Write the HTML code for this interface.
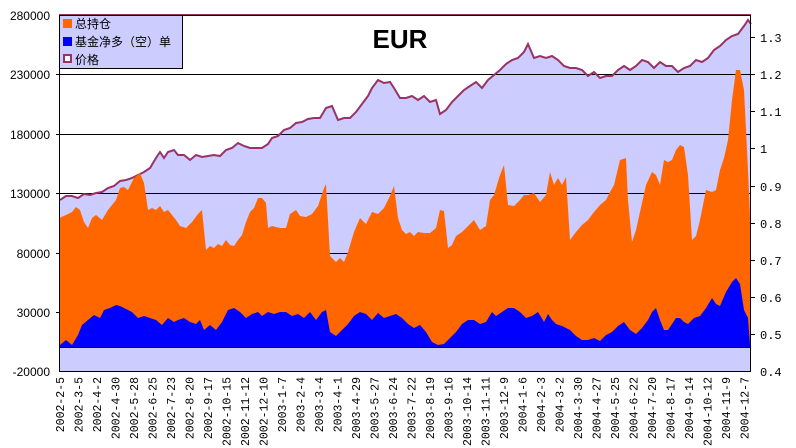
<!DOCTYPE html>
<html><head><meta charset="utf-8"><style>body{margin:0;background:#fff}svg{display:block}</style></head><body>
<svg width="796" height="448" xmlns="http://www.w3.org/2000/svg" font-family="Liberation Mono, monospace">
<rect x="59" y="15" width="692" height="357" fill="#ccccff"/>
<polygon fill="#fff" points="59,15 751,15 751,24 748,20 744,26 738,34 732,36 726,40 720,46 714,50 708,58 702,62 696,60 690,66 684,68 678,72 672,66 666,66 660,62 654,68 648,62 642,60 636,66 630,70 624,66 618,70 612,76 606,76 600,78 594,72 588,76 582,70 576,68 570,68 564,66 558,60 552,56 546,58 540,56 534,58 528,44 524,52 518,58 512,60 506,64 500,70 494,75 488,80 482,88 476,82 470,86 464,90 458,96 452,102 446,110 440,114 436,100 430,102 424,96 418,100 412,96 406,98 400,98 394,88 390,82 384,83 378,80 372,88 368,96 362,104 356,112 350,118 344,118 338,120 332,106 326,108 320,118 314,118 308,119 302,122 296,123 290,128 284,130 278,136 272,138 268,144 262,148 256,148 250,148 244,146 238,143 232,148 226,150 220,156 214,155 208,156 202,157 196,155 190,160 184,155 178,155 174,150 168,152 164,158 160,152 156,158 150,168 144,172 138,175 132,178 126,180 120,181 114,186 108,188 102,192 96,193 90,195 84,194 78,198 72,196 66,196 60,200 59,200"/>
<g stroke="#000" stroke-width="1">
<line x1="59" y1="74.5" x2="751" y2="74.5"/><line x1="59" y1="134.5" x2="751" y2="134.5"/><line x1="59" y1="193.5" x2="751" y2="193.5"/><line x1="59" y1="253.5" x2="751" y2="253.5"/>
</g>
<polyline fill="none" stroke="#993366" stroke-width="2" points="59,15 751,15"/>
<polyline fill="none" stroke="#993366" stroke-width="2" points="60,200 66,196 72,196 78,198 84,194 90,195 96,193 102,192 108,188 114,186 120,181 126,180 132,178 138,175 144,172 150,168 156,158 160,152 164,158 168,152 174,150 178,155 184,155 190,160 196,155 202,157 208,156 214,155 220,156 226,150 232,148 238,143 244,146 250,148 256,148 262,148 268,144 272,138 278,136 284,130 290,128 296,123 302,122 308,119 314,118 320,118 326,108 332,106 338,120 344,118 350,118 356,112 362,104 368,96 372,88 378,80 384,83 390,82 394,88 400,98 406,98 412,96 418,100 424,96 430,102 436,100 440,114 446,110 452,102 458,96 464,90 470,86 476,82 482,88 488,80 494,75 500,70 506,64 512,60 518,58 524,52 528,44 534,58 540,56 546,58 552,56 558,60 564,66 570,68 576,68 582,70 588,76 594,72 600,78 606,76 612,76 618,70 624,66 630,70 636,66 642,60 648,62 654,68 660,62 666,66 672,66 678,72 684,68 690,66 696,60 702,62 708,58 714,50 720,46 726,40 732,36 738,34 744,26 748,20 751,24"/>
<polygon fill="#ff6600" points="59,347 59,218 66,215 72,212 76,207 80,210 84,222 88,228 92,218 96,215 102,220 108,210 112,205 116,200 120,188 124,187 128,190 134,178 140,173 144,183 148,210 152,208 156,210 160,206 164,212 168,210 172,215 176,220 180,226 186,228 192,222 198,214 202,210 206,250 210,246 214,248 218,244 222,246 226,240 230,245 234,246 238,240 242,235 246,222 250,212 254,208 258,198 262,198 266,203 268,228 272,226 280,228 286,228 290,214 296,210 300,216 306,217 312,214 318,206 324,188 326,184 330,256 336,262 340,258 344,262 348,252 354,232 360,218 366,224 372,212 378,214 384,208 390,196 394,186 398,218 402,230 406,234 410,232 414,236 418,232 424,233 430,233 436,228 440,210 444,211 448,248 452,245 456,236 462,232 468,226 474,220 480,230 486,226 490,200 494,195 500,175 504,165 508,205 514,206 520,200 524,195 528,195 534,193 540,202 546,195 550,172 554,185 558,178 562,185 566,177 570,240 576,232 582,225 588,220 594,212 600,205 606,200 610,192 614,185 620,160 626,158 628,200 632,242 636,230 640,212 646,185 652,172 656,175 660,185 664,160 668,162 672,160 676,150 680,145 684,147 688,175 692,240 696,236 700,220 706,190 712,192 716,190 720,170 724,158 728,140 732,100 736,70 740,70 744,90 748,170 751,240 751,347"/>
<polygon fill="#0000ff" points="59,347 60,345 66,340 72,345 78,335 82,325 88,320 94,315 100,318 104,310 110,308 116,305 120,306 126,309 132,312 138,318 144,316 150,318 156,320 162,325 168,318 174,322 178,320 184,318 190,322 196,324 200,320 204,330 210,325 216,330 222,322 228,310 234,308 240,312 246,318 252,314 258,312 262,316 268,312 274,314 280,312 286,312 292,316 298,314 304,318 310,312 316,320 322,312 326,310 330,332 336,336 342,330 348,324 354,316 360,312 366,314 372,320 378,313 384,318 390,316 396,314 402,318 408,324 414,328 420,325 426,332 432,342 438,345 444,344 450,338 456,332 462,324 468,320 474,320 480,324 486,322 492,312 496,316 502,312 508,308 514,308 520,312 526,318 532,316 538,312 544,322 548,314 552,320 556,324 562,326 570,330 576,336 582,340 588,340 594,338 600,341 606,335 612,332 618,326 624,322 630,330 636,334 642,328 648,320 652,312 656,308 660,320 664,330 668,330 672,324 676,318 680,318 684,322 688,324 694,318 700,316 706,308 712,298 716,304 720,306 726,292 732,282 736,278 740,284 744,310 748,318 750,345 751,360 751,347"/>
<line x1="59" y1="347.5" x2="751" y2="347.5" stroke="#000"/>
<rect x="59.5" y="15.5" width="691" height="356" fill="none" stroke="#000"/>
<g stroke="#000"><line x1="56" y1="74.5" x2="59" y2="74.5"/><line x1="56" y1="134.5" x2="59" y2="134.5"/><line x1="56" y1="193.5" x2="59" y2="193.5"/><line x1="56" y1="253.5" x2="59" y2="253.5"/><line x1="56" y1="312.5" x2="59" y2="312.5"/>
<line x1="751" y1="37.5" x2="755" y2="37.5"/><line x1="751" y1="74.5" x2="755" y2="74.5"/><line x1="751" y1="111.5" x2="755" y2="111.5"/><line x1="751" y1="148.5" x2="755" y2="148.5"/><line x1="751" y1="186.5" x2="755" y2="186.5"/><line x1="751" y1="223.5" x2="755" y2="223.5"/><line x1="751" y1="260.5" x2="755" y2="260.5"/><line x1="751" y1="297.5" x2="755" y2="297.5"/><line x1="751" y1="334.5" x2="755" y2="334.5"/></g>
<g font-size="12" text-anchor="end" font-family="Liberation Sans, sans-serif">
<text x="50" y="20">280000</text><text x="50" y="79">230000</text><text x="50" y="139">180000</text><text x="50" y="198">130000</text><text x="50" y="258">80000</text><text x="50" y="317">30000</text><text x="50" y="376">-20000</text></g>
<g font-size="12" text-anchor="start">
<text x="760" y="42">1.3</text><text x="760" y="79">1.2</text><text x="760" y="116">1.1</text><text x="760" y="153">1</text><text x="760" y="191">0.9</text><text x="760" y="228">0.8</text><text x="760" y="265">0.7</text><text x="760" y="302">0.6</text><text x="760" y="339">0.5</text><text x="760" y="376">0.4</text></g>
<text x="400" y="48" font-family="Liberation Sans, sans-serif" font-size="26" font-weight="bold" text-anchor="middle">EUR</text>
<rect x="59.5" y="15.5" width="123" height="53" fill="#ccccff" stroke="#000"/>
<rect x="63" y="19" width="9" height="9" fill="#ff6600"/><rect x="63" y="37" width="9" height="9" fill="#0000ff"/><rect x="64" y="55" width="7" height="7" fill="#fff" stroke="#993366" stroke-width="2"/>
<g font-family="Liberation Sans, Noto Sans CJK SC, sans-serif" font-size="12"><text x="75" y="28">总持仓</text><text x="75" y="46">基金净多（空）单</text><text x="75" y="64">价格</text></g>
<g font-size="11.5" text-anchor="end">
<text transform="translate(64.0,377) rotate(-90)">2002-2-5</text>
<text transform="translate(82.5,377) rotate(-90)">2002-3-5</text>
<text transform="translate(101.0,377) rotate(-90)">2002-4-2</text>
<text transform="translate(119.5,377) rotate(-90)">2002-4-30</text>
<text transform="translate(138.0,377) rotate(-90)">2002-5-28</text>
<text transform="translate(156.5,377) rotate(-90)">2002-6-25</text>
<text transform="translate(175.0,377) rotate(-90)">2002-7-23</text>
<text transform="translate(193.5,377) rotate(-90)">2002-8-20</text>
<text transform="translate(212.0,377) rotate(-90)">2002-9-17</text>
<text transform="translate(230.5,377) rotate(-90)">2002-10-15</text>
<text transform="translate(249.0,377) rotate(-90)">2002-11-12</text>
<text transform="translate(267.5,377) rotate(-90)">2002-12-10</text>
<text transform="translate(286.0,377) rotate(-90)">2003-1-7</text>
<text transform="translate(304.5,377) rotate(-90)">2003-2-4</text>
<text transform="translate(323.0,377) rotate(-90)">2003-3-4</text>
<text transform="translate(341.5,377) rotate(-90)">2003-4-1</text>
<text transform="translate(360.0,377) rotate(-90)">2003-4-29</text>
<text transform="translate(378.5,377) rotate(-90)">2003-5-27</text>
<text transform="translate(397.0,377) rotate(-90)">2003-6-24</text>
<text transform="translate(415.5,377) rotate(-90)">2003-7-22</text>
<text transform="translate(434.0,377) rotate(-90)">2003-8-19</text>
<text transform="translate(452.5,377) rotate(-90)">2003-9-16</text>
<text transform="translate(471.0,377) rotate(-90)">2003-10-14</text>
<text transform="translate(489.5,377) rotate(-90)">2003-11-11</text>
<text transform="translate(508.0,377) rotate(-90)">2003-12-9</text>
<text transform="translate(526.5,377) rotate(-90)">2004-1-6</text>
<text transform="translate(545.0,377) rotate(-90)">2004-2-3</text>
<text transform="translate(563.5,377) rotate(-90)">2004-3-2</text>
<text transform="translate(582.0,377) rotate(-90)">2004-3-30</text>
<text transform="translate(600.5,377) rotate(-90)">2004-4-27</text>
<text transform="translate(619.0,377) rotate(-90)">2004-5-25</text>
<text transform="translate(637.5,377) rotate(-90)">2004-6-22</text>
<text transform="translate(656.0,377) rotate(-90)">2004-7-20</text>
<text transform="translate(674.5,377) rotate(-90)">2004-8-17</text>
<text transform="translate(693.0,377) rotate(-90)">2004-9-14</text>
<text transform="translate(711.5,377) rotate(-90)">2004-10-12</text>
<text transform="translate(730.0,377) rotate(-90)">2004-11-9</text>
<text transform="translate(748.5,377) rotate(-90)">2004-12-7</text>
</g>
</svg>
</body></html>
